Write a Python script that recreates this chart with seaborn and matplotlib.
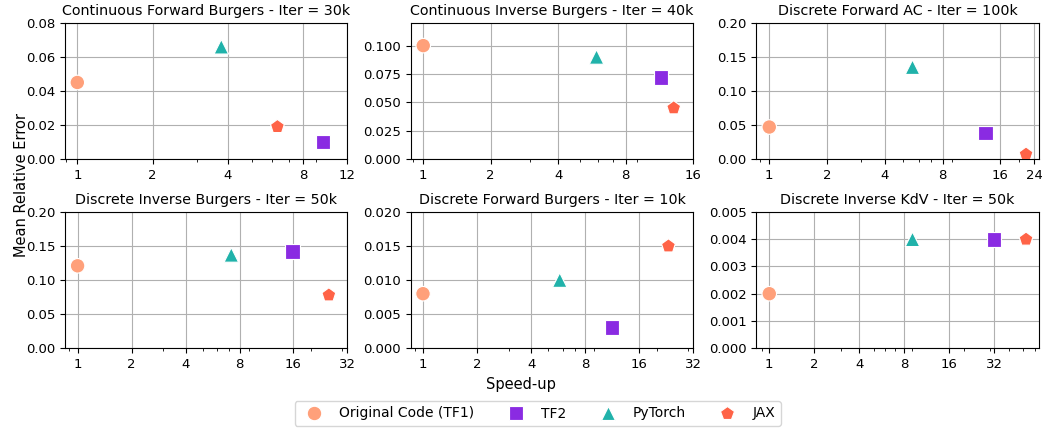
import numpy as np
import pandas as pd
import matplotlib
matplotlib.use("Agg")
import matplotlib.pyplot as plt
from matplotlib.ticker import NullFormatter
import seaborn as sns

# frameworks and their look
frameworks = ["Original Code (TF1)", "TF2", "PyTorch", "JAX"]
colors = {"Original Code (TF1)": "lightsalmon", "TF2": "blueviolet",
          "PyTorch": "lightseagreen", "JAX": "tomato"}
markers = {"Original Code (TF1)": "o", "TF2": "s", "PyTorch": "^", "JAX": "p"}

titles = ["Continuous Forward Burgers - Iter = 30k",
          "Continuous Inverse Burgers - Iter = 40k",
          "Discrete Forward AC - Iter = 100k",
          "Discrete Inverse Burgers - Iter = 50k",
          "Discrete Forward Burgers - Iter = 10k",
          "Discrete Inverse KdV - Iter = 50k"]

# speed-up per framework (TF1, TF2, PyTorch, JAX)
speedup = [[1, 9.6, 3.76, 6.3],
           [1, 11.5, 5.93, 13.1],
           [1, 13.4, 5.58, 21.8],
           [1, 15.8, 7.2, 25.2],
           [1, 11.3, 5.78, 23.3],
           [1, 32, 9.1, 52.4]]
# mean relative error per framework
error = [[0.045, 0.010, 0.066, 0.019],
         [0.100, 0.072, 0.090, 0.045],
         [0.047, 0.038, 0.135, 0.007],
         [0.121, 0.142, 0.137, 0.078],
         [0.008, 0.003, 0.010, 0.015],
         [0.002, 0.004, 0.004, 0.004]]

xticks = [[1, 2, 4, 8, 12],
          [1, 2, 4, 8, 16],
          [1, 2, 4, 8, 16, 24],
          [1, 2, 4, 8, 16, 32],
          [1, 2, 4, 8, 16, 32],
          [1, 2, 4, 8, 16, 32]]
ytop = [0.08, 0.12, 0.20, 0.20, 0.020, 0.005]
ystep = [0.02, 0.025, 0.05, 0.05, 0.005, 0.001]
ydec = [2, 3, 2, 2, 3, 3]

fig, axes = plt.subplots(2, 3, figsize=(10.42, 4.33), dpi=100)
plt.subplots_adjust(left=0.0624, right=0.997, top=0.947, bottom=0.196,
                    wspace=0.224, hspace=0.39)

for k, ax in enumerate(axes.flat):
    df = pd.DataFrame({"framework": frameworks, "speedup": speedup[k], "error": error[k]})
    sns.scatterplot(data=df, x="speedup", y="error", hue="framework", style="framework",
                    palette=colors, markers=markers, hue_order=frameworks,
                    style_order=frameworks, s=110, ax=ax, zorder=3, legend=(k == 0))
    ax.set_xscale("log")
    lo, hi = min(speedup[k]), max(speedup[k])
    span = np.log10(hi / lo)
    ax.set_xlim(lo * 10 ** (-0.05 * span), max(hi * 10 ** (0.05 * span), xticks[k][-1]))
    ax.set_xticks(xticks[k], [str(t) for t in xticks[k]])
    ax.xaxis.set_minor_formatter(NullFormatter())
    ax.set_ylim(0, ytop[k])
    yt = np.arange(0, ytop[k] + 1e-9, ystep[k])
    ax.set_yticks(yt, ["{:.{}f}".format(v, ydec[k]) for v in yt])
    ax.grid(True, color="#b0b0b0", linewidth=0.8)
    ax.set_axisbelow(True)
    ax.set_title(titles[k], fontsize=10.3)
    ax.set_xlabel("")
    ax.set_ylabel("")
    ax.tick_params(labelsize=9.5)

handles, labels = axes[0, 0].get_legend_handles_labels()
axes[0, 0].get_legend().remove()
fig.legend(handles, labels, loc="lower center", bbox_to_anchor=(0.516, 0.0), ncol=4,
           fontsize=10, markerscale=1.0)
fig.supylabel("Mean Relative Error", x=0.013, y=0.573, fontsize=10.5)
fig.supxlabel("Speed-up", y=0.095, fontsize=10.5)

plt.savefig("out.png", dpi=100)
